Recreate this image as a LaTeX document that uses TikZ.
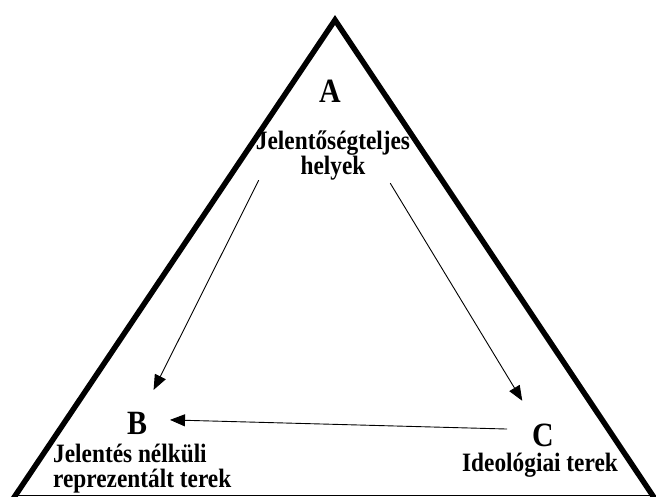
\documentclass[tikz,border=0pt]{standalone}
\usepackage{fontspec}
\setmainfont{Liberation Serif}[FakeStretch=0.88]
\usetikzlibrary{positioning}
\usetikzlibrary{arrows.meta}

\tikzset{
  corner/.style={font=\fontsize{34}{34}\selectfont\bfseries, inner sep=0pt},
  desc/.style={font=\fontsize{26.5}{25}\selectfont\bfseries, inner sep=0pt},
  flow/.style={line width=0.9pt, -{Triangle[length=15pt,width=12pt]}},
}

\begin{document}
\begin{tikzpicture}[x=1pt,y=-1pt]
        \useasboundingbox (0,0) rectangle (656,497);
        % Triangle
        \draw[line width=5.5pt, line join=miter] (13,499) -- (335,20) -- (655,499);
        \draw[line width=1.5pt] (13,495.5) -- (655,495.5);
        % Nodes
        \node[corner]                                    (A) at (330,91) {A};
        \node[desc, align=center, below=28pt of A, xshift=3pt] (Atext) {Jelentőségteljes\\helyek};
        \node[corner]                                    (B) at (137,423) {B};
        \node[desc, align=left, anchor=north west]       (Btext) at (53,444) {Jelentés nélküli\\reprezentált terek};
        \node[corner]                                    (C) at (543,435) {C};
        \node[desc]                                      (Ctext) at (540,465) {Ideológiai terek};
        % Arrows
        \draw[flow, shorten >=37pt] ([xshift=3pt]Atext.south west) -- (B.center);
        \draw[flow, shorten >=40pt] ([xshift=-20pt,yshift=-3pt]Atext.south east) -- (C.center);
        \draw[flow, shorten <=36pt, shorten >=33pt] ([yshift=5pt]C.center) -- ([yshift=4pt]B.center);
    \end{tikzpicture}
\end{document}
